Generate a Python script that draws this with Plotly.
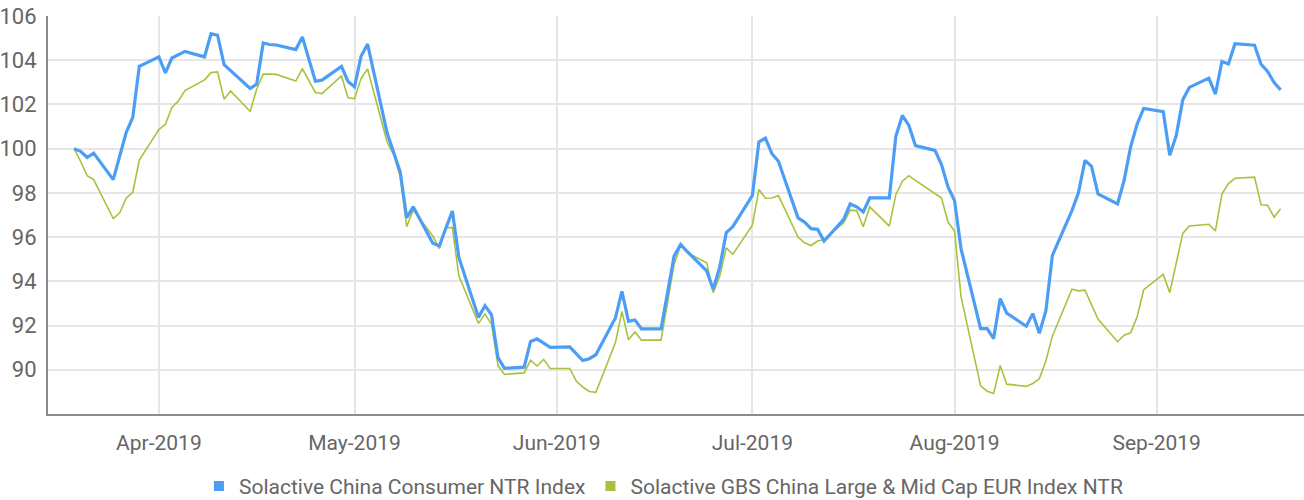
import pandas as pd
import plotly.graph_objects as go

# Business days from 19 Mar 2019 to 20 Sep 2019
dates = pd.bdate_range("2019-03-19", "2019-09-20")

consumer = [
    # Mar 19-22, 25-29
    100.0, 99.88, 99.6, 99.8, 98.6, 99.62, 100.74, 101.42, 103.72,
    # April
    104.15, 103.43, 104.1, 104.25, 104.4, 104.15, 105.2, 105.13, 103.8, 103.53,
    102.72, 102.92, 104.78, 104.71, 104.69, 104.48, 105.05, 104.05, 103.05, 103.1,
    103.72, 103.04,
    # May
    102.8, 104.18, 104.73, 100.71, 99.84, 98.95, 96.88, 97.37, 95.72, 95.6,
    96.4, 97.18, 95.08, 92.37, 92.9, 92.49, 90.55, 90.07, 90.12, 91.28,
    91.4, 91.2, 91.01,
    # June
    91.04, 90.72, 90.42, 90.5, 90.68, 92.34, 93.55, 92.19, 92.25, 91.85,
    91.85, 93.49, 95.14, 95.67, 95.35, 94.47, 93.64, 94.65, 96.2, 96.47,
    # July
    97.88, 100.3, 100.48, 99.77, 99.43, 96.87, 96.68, 96.38, 96.35, 95.82,
    96.8, 97.5, 97.37, 97.14, 97.77, 97.77, 100.56, 101.5, 101.05, 100.14,
    99.92, 99.28, 98.27,
    # August
    97.65, 95.47, 91.86, 91.86, 91.41, 93.22, 92.56, 91.97, 92.54, 91.65,
    92.66, 95.17, 97.2, 98.0, 99.47, 99.2, 97.95, 97.5, 98.57, 100.08,
    101.11, 101.82,
    # September
    101.67, 99.7, 100.6, 102.21, 102.77, 103.19, 102.47, 103.94, 103.83, 104.75,
    104.68, 103.82, 103.49, 102.99, 102.66,
]

gbs = [
    # Mar 19-22, 25-29
    100.0, 99.43, 98.78, 98.6, 96.84, 97.1, 97.77, 98.03, 99.48,
    # April
    100.86, 101.1, 101.86, 102.16, 102.63, 103.11, 103.44, 103.47, 102.24, 102.61,
    101.68, 102.7, 103.37, 103.37, 103.36, 103.06, 103.62, 103.08, 102.54, 102.49,
    103.29, 102.3,
    # May
    102.26, 103.17, 103.6, 100.29, 99.73, 98.75, 96.47, 97.22, 96.05, 95.48,
    96.43, 96.43, 94.25, 92.1, 92.52, 92.07, 90.19, 89.79, 89.86, 90.43,
    90.17, 90.47, 90.06,
    # June
    90.06, 89.49, 89.22, 89.02, 88.98, 91.22, 92.64, 91.36, 91.71, 91.34,
    91.34, 93.04, 94.77, 95.62, 95.3, 94.84, 93.49, 94.24, 95.52, 95.22,
    # July
    96.54, 98.15, 97.76, 97.77, 97.88, 96.0, 95.74, 95.62, 95.82, 95.89,
    96.65, 97.22, 97.2, 96.47, 97.37, 96.5, 97.92, 98.53, 98.78, 98.57,
    97.99, 97.77, 96.68,
    # August
    96.27, 93.3, 89.27, 89.03, 88.93, 90.19, 89.35, 89.25, 89.38, 89.59,
    90.4, 91.52, 93.64, 93.57, 93.6, 92.95, 92.29, 91.27, 91.56, 91.67,
    92.4, 93.62,
    # September
    94.32, 93.49, 94.84, 96.17, 96.5, 96.58, 96.28, 97.95, 98.42, 98.66,
    98.71, 97.46, 97.44, 96.9, 97.28,
]

series_names = [
    "Solactive China Consumer NTR Index",
    "Solactive GBS China Large & Mid Cap EUR Index NTR",
]
series_colors = ["#4c9df6", "#a9c23c"]
y_ticks = [90, 92, 94, 96, 98, 100, 102, 104, 106]

assert len(dates) == len(consumer) == len(gbs)

FONT = "Roboto, sans-serif"

fig = go.Figure()
fig.add_trace(go.Scatter(x=dates, y=gbs, mode="lines", showlegend=False,
                         line=dict(color=series_colors[1], width=1.6)))
fig.add_trace(go.Scatter(x=dates, y=consumer, mode="lines", showlegend=False,
                         line=dict(color=series_colors[0], width=3.2)))
for name, col in zip(series_names, series_colors):
    fig.add_trace(go.Scatter(x=[None], y=[None], mode="markers", name=name,
                             marker=dict(symbol="square", size=10, color=col)))

fig.update_layout(
    width=1304, height=500,
    margin=dict(l=48, r=0, t=16, b=86, autoexpand=False),
    paper_bgcolor="white", plot_bgcolor="white",
    font=dict(family=FONT, color="#666666", size=21),
    legend=dict(orientation="h", x=0.49, xanchor="center", y=-0.13, yanchor="top",
                font=dict(size=21, color="#666666"), itemwidth=30,
                tracegroupgap=0, traceorder="normal"),
)
fig.update_xaxes(
    range=["2019-03-15", "2019-09-23 14:00"],
    dtick="M1", tick0="2019-04-01", tickformat="%b-%Y",
    showgrid=True, gridcolor="#e6e6e6", gridwidth=2,
    showline=True, linecolor="#8c8c8c", linewidth=2,
    ticks="", ticklabelstandoff=9, automargin=False,
    tickfont=dict(size=21, color="#666666"),
    zeroline=False,
)
fig.update_yaxes(
    range=[88, 106], tickvals=y_ticks,
    showgrid=True, gridcolor="#e6e6e6", gridwidth=2,
    showline=True, linecolor="#8c8c8c", linewidth=2,
    ticks="", automargin=False, ticklabelstandoff=5,
    tickfont=dict(size=22, color="#666666"),
    zeroline=False,
)

fig.write_html(
    "out.html",
    config={"displayModeBar": False},
    post_script="document.body.style.margin='0';document.body.style.overflow='hidden';",
)
